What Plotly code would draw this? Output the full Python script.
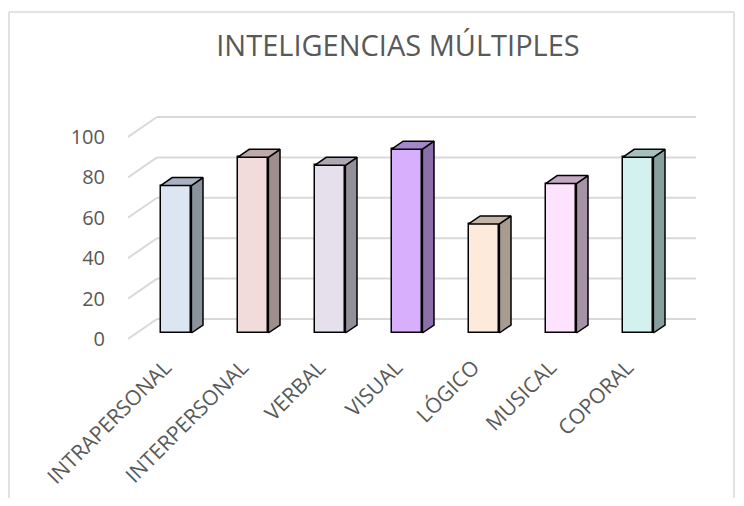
import plotly.graph_objects as go

# ---------------- data ----------------
categories = ["INTRAPERSONAL", "INTERPERSONAL", "VERBAL", "VISUAL", "LÓGICO", "MUSICAL", "COPORAL"]
values = [73, 87, 83, 91, 54, 74, 87]
y_ticks = [0, 20, 40, 60, 80, 100]
front_colors = ["#dce6f2", "#f2dcdb", "#e6e0ec", "#d8affc", "#fdeada", "#fde3fd", "#d3f1ee"]
side_colors = ["#8a939c", "#9e8e8d", "#939099", "#8a6fab", "#a89b8f", "#a693a6", "#88a09d"]
top_colors = ["#a8b3bf", "#bda9a8", "#aca7b3", "#a487c9", "#c4b4a6", "#c3aac3", "#a5c1be"]
title_text = "INTELIGENCIAS MÚLTIPLES"

# ---------------- geometry (page pixels -> axis units) ----------------
PAGE_W, PAGE_H = 744, 506
OFF = 8                      # browser default body margin
W, H = PAGE_W - 2 * OFF, PAGE_H - 2 * OFF
PX_CAT = 77.0                # pixels per category
PX_UNIT = 2.02               # pixels per value unit
DEPTH_DX_PX = 29.0           # oblique depth offset (x)
DEPTH_DY_PX = 20.0           # oblique depth offset (y)
PLOT_L, PLOT_R, PLOT_T, PLOT_B = 128 - OFF, 696 - OFF, 105 - OFF, 345 - OFF
ZERO_PX = 339.0 - OFF
FIRST_CAT_PX = 167.3 - OFF
LABEL_SHIFT_PX = -2.0

DX = DEPTH_DX_PX / PX_CAT
DZ = DEPTH_DY_PX / PX_UNIT
x_lo = (PLOT_L - FIRST_CAT_PX) / PX_CAT
x_hi = (PLOT_R - FIRST_CAT_PX) / PX_CAT
y_lo = -(PLOT_B - ZERO_PX) / PX_UNIT
y_hi = (ZERO_PX - PLOT_T) / PX_UNIT

BAR_W = 0.4
BAR_FRONT, BAR_BACK = 0.3, 0.7
bdx = (BAR_BACK - BAR_FRONT) * DX
bdz = (BAR_BACK - BAR_FRONT) * DZ
base = BAR_FRONT * DZ

GRID = "#d9d9d9"
TEXT = "#595959"
FONT = "Open Sans"

fig = go.Figure()

# gridlines (back wall + left diagonals)
shapes = []
for v in y_ticks:
    shapes.append(dict(type="line", xref="x", yref="y", x0=x_lo + DX, y0=v + DZ, x1=x_hi, y1=v + DZ,
                       line=dict(color=GRID, width=2), layer="below"))
    shapes.append(dict(type="line", xref="x", yref="y", x0=x_lo, y0=v, x1=x_lo + DX, y1=v + DZ,
                       line=dict(color=GRID, width=2), layer="below"))

# frame (left, top, right)
def px_to_paper_x(px):
    return (px - OFF - PLOT_L) / (PLOT_R - PLOT_L)

def px_to_paper_y(py):
    return (PLOT_B - (py - OFF)) / (PLOT_B - PLOT_T)

fl, fr, ft, fb = 9, 734, 12, 520
for (a, b, c, d) in [(fl, ft, fl, fb), (fl, ft, fr, ft), (fr, ft, fr, fb)]:
    shapes.append(dict(type="line", xref="paper", yref="paper",
                       x0=px_to_paper_x(a), y0=px_to_paper_y(b), x1=px_to_paper_x(c), y1=px_to_paper_y(d),
                       line=dict(color=GRID, width=1.5)))

# front faces
xc = [i + BAR_FRONT * DX for i in range(len(categories))]
fig.add_trace(go.Bar(x=xc, y=values, base=base, width=BAR_W,
                     marker=dict(color=front_colors, line=dict(color="black", width=1.5)),
                     hoverinfo="skip", showlegend=False))

# side & top faces
for i, v in enumerate(values):
    xl = xc[i] - BAR_W / 2
    xr = xc[i] + BAR_W / 2
    top = base + v
    fig.add_trace(go.Scatter(x=[xr, xr + bdx, xr + bdx, xr, xr],
                             y=[base, base + bdz, top + bdz, top, base],
                             mode="lines", fill="toself", fillcolor=side_colors[i],
                             line=dict(color="black", width=1.5), hoverinfo="skip", showlegend=False))
    fig.add_trace(go.Scatter(x=[xl, xr, xr + bdx, xl + bdx, xl],
                             y=[top, top, top + bdz, top + bdz, top],
                             mode="lines", fill="toself", fillcolor=top_colors[i],
                             line=dict(color="black", width=1.5), hoverinfo="skip", showlegend=False))

fig.update_layout(
    width=W, height=H,
    margin=dict(l=PLOT_L, r=W - PLOT_R, t=PLOT_T, b=H - PLOT_B, autoexpand=False),
    paper_bgcolor="white", plot_bgcolor="rgba(0,0,0,0)",
    shapes=shapes,
    title=dict(text=title_text, xref="container", yref="container",
               x=(398 - OFF) / W, y=1 - (46 - OFF) / H, xanchor="center", yanchor="middle",
               font=dict(family=FONT, size=29, color=TEXT)),
    xaxis=dict(range=[x_lo, x_hi], tickmode="array",
               tickvals=[i + LABEL_SHIFT_PX / PX_CAT for i in range(len(categories))],
               ticktext=categories, tickangle=-45, showgrid=False, zeroline=False, showline=False,
               ticks="", ticklabelstandoff=5, automargin=False,
               tickfont=dict(family=FONT, size=21, color=TEXT), fixedrange=True),
    yaxis=dict(range=[y_lo, y_hi], tickmode="array", tickvals=y_ticks, showgrid=False,
               zeroline=False, showline=False, ticks="outside", ticklen=18, automargin=False,
               tickcolor="rgba(0,0,0,0)", tickfont=dict(family=FONT, size=20, color=TEXT),
               fixedrange=True),
    bargap=0,
)

fig.write_html("out.html")
